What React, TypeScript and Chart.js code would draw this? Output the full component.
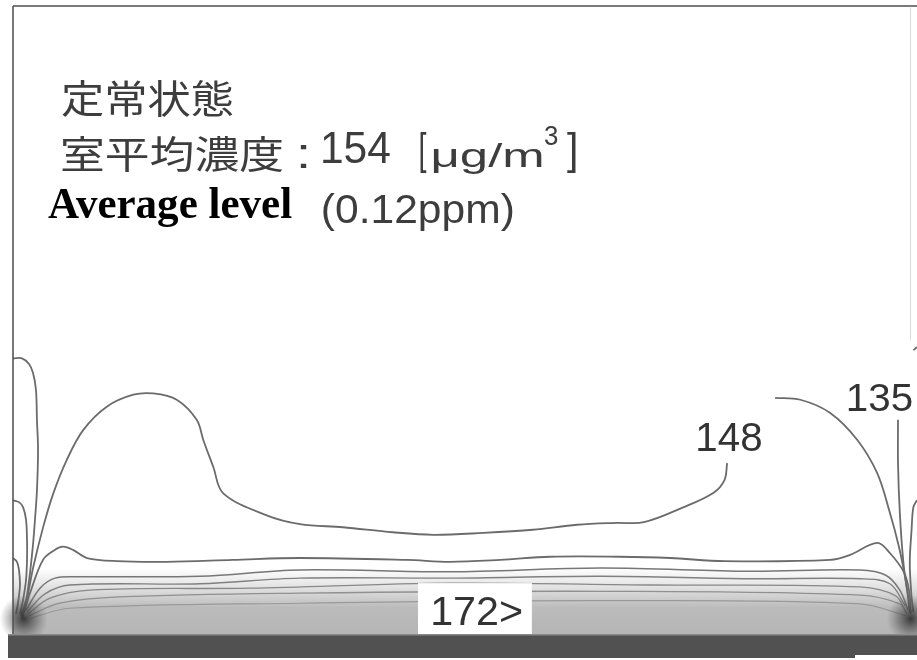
import { useEffect, useRef } from 'react';
import { Chart, registerables } from 'chart.js';

Chart.register(...registerables);

type P = [number, number];

// Room section: x runs 0..100 across the room, y runs 0 (floor) .. 100 (ceiling).
// Iso-concentration lines [μg/m³].
const wallLoopA: P[] = [
  [0, 43.9], [1.0, 43.9], [1.77, 43.0], [2.21, 41.6], [2.54, 38.9], [2.65, 34.1], [2.77, 29.3],
  [2.65, 22.9], [2.43, 18.2], [2.21, 14.2], [1.88, 9.7], [1.55, 6.2], [1.22, 4.3], [0.88, 2.9],
];
const wallLoopB: P[] = [
  [0, 21.3], [0.66, 21.0], [1.11, 20.2], [1.44, 18.2], [1.55, 15.0], [1.55, 11.8], [1.44, 8.6],
  [1.11, 5.4], [0.77, 3.2],
];
const wallLoopC: P[] = [
  [0, 12.1], [0.44, 11.5], [0.66, 10.2], [0.77, 7.8], [0.55, 4.9], [0.33, 3.2],
];
const level148West: P[] = [
  [1.0, 2.5], [1.52, 5.4], [2.25, 10.7], [3.35, 17.1], [4.46, 22.4], [5.94, 27.7], [7.78, 32.5],
  [10.37, 36.2], [13.31, 38.1], [15.52, 38.3], [18.11, 37.3], [20.32, 34.1], [21.05, 30.9],
  [22.16, 26.6], [23.26, 22.4], [28.06, 18.9], [31.75, 17.5], [36.5, 17.0], [42.0, 16.2],
  [46.5, 15.8], [52.0, 16.1], [57.5, 16.6], [62.4, 17.4], [66.8, 17.7], [69.8, 17.8],
  [74.2, 20.2], [77.5, 22.5], [78.7, 24.5], [79.0, 27.2],
];
const level148East: P[] = [
  [84.3, 37.6], [87.1, 37.3], [90.4, 35.2], [93.4, 30.9], [95.6, 25.6], [97.0, 19.3],
  [98.0, 13.9], [98.6, 9.7], [99.1, 5.4], [99.3, 3.2],
];
const level135: P[] = [
  [97.9, 34.1], [97.9, 27.2], [98.1, 19.3], [98.5, 11.3], [99.0, 5.9], [99.2, 3.5],
];
const eastWallLoop: P[] = [
  [100, 21.3], [99.6, 20.2], [99.4, 16.6], [99.2, 11.3], [99.4, 5.9], [99.6, 3.5],
];
const eastWallStub: P[] = [[99.6, 45.2], [100, 45.7]];
const nearFloor1: P[] = [
  [1.22, 3.5], [1.88, 6.5], [3.32, 11.8], [4.65, 13.4], [5.53, 13.9], [6.64, 13.4], [8.19, 12.1],
  [11.5, 11.6], [17.0, 11.5], [24.3, 11.8], [31.7, 12.1], [43.6, 11.8], [48.3, 11.5], [53.9, 11.8],
  [59.4, 12.3], [67.1, 12.3], [72.7, 12.1], [78.7, 11.6], [90.4, 11.8], [92.6, 12.6], [95.6, 14.5],
  [97.0, 12.9], [98.6, 9.7], [99.2, 6.2], [99.3, 3.5],
];
const nearFloor2: P[] = [
  [1.44, 3.8], [2.99, 7.3], [4.65, 8.9], [7.41, 9.1], [20.7, 9.2], [31.7, 10.2], [48.3, 9.9],
  [65.0, 10.5], [81.5, 10.0], [93.7, 10.2], [96.5, 9.4], [98.1, 7.0], [99.0, 3.8],
];
const nearFloor3: P[] = [
  [1.55, 3.5], [3.54, 6.4], [6.3, 7.8], [20.7, 8.0], [31.7, 8.9], [48.3, 8.9], [65.0, 9.2],
  [81.5, 8.8], [93.7, 8.8], [97.0, 8.0], [98.7, 4.5],
];
const nearFloor4: P[] = [
  [1.66, 3.2], [4.09, 5.7], [8.5, 7.0], [26.2, 7.3], [48.3, 8.1], [70.5, 7.8], [93.7, 7.5],
  [97.6, 6.1], [98.8, 3.5],
];
const nearFloor5: P[] = [
  [1.77, 2.9], [5.2, 4.9], [11.8, 5.9], [31.7, 6.5], [64.9, 6.8], [93.7, 6.2], [98.1, 4.8], [98.9, 3.2],
];
const nearFloor6: P[] = [
  [1.88, 2.5], [6.3, 4.1], [31.7, 4.9], [64.9, 5.3], [93.7, 4.8], [98.8, 2.9],
];
const shadedTop: P[] = [[0, 10.5], [100, 10.5]];

const contourLevels = ['148', '135'];
const floorLevel = '172>';
const heading = '定常状態';
const meanCaption = '室平均濃度';
const meanValue = '154';
const meanUnit = 'μg/m';
const englishCaption = 'Average level';
const ppmValue = '(0.12ppm)';

const CJK = '"Noto Sans CJK JP", "Noto Sans CJK SC", sans-serif';
const SANS = '"Liberation Sans", Arial, sans-serif';
const SERIF = '"Liberation Serif", "Times New Roman", serif';

// Draw text so its ink box fills the given rectangle.
function inkText(
  ctx: CanvasRenderingContext2D, text: string, font: string, color: string,
  left: number, right: number, top: number, bottom: number,
) {
  ctx.save();
  ctx.font = font;
  ctx.fillStyle = color;
  ctx.textAlign = 'left';
  ctx.textBaseline = 'alphabetic';
  const m = ctx.measureText(text);
  const inkW = m.actualBoundingBoxLeft + m.actualBoundingBoxRight;
  const inkH = m.actualBoundingBoxAscent + m.actualBoundingBoxDescent;
  const sx = (right - left) / inkW;
  const sy = (bottom - top) / inkH;
  ctx.translate(left, top);
  ctx.scale(sx, sy);
  ctx.fillText(text, m.actualBoundingBoxLeft, m.actualBoundingBoxAscent);
  ctx.restore();
}

const pts = (p: P[]) => p.map(([x, y]) => ({ x, y }));

const contour = (p: P[], label: string, color = '#6b6b6b', width = 1.8) => ({
  label,
  data: pts(p),
  showLine: true,
  borderColor: color,
  borderWidth: width,
  pointRadius: 0,
  tension: 0.35,
  fill: false,
  order: 0,
});

const decorations = {
  id: 'roomDecor',
  afterDatasetsDraw(chart: any) {
    const { ctx, scales } = chart;
    const xs = scales.x;
    const ys = scales.y;
    // dense source zones in the two lower corners
    const blobs: P[] = [[1.2, 2.4], [99.3, 2.4]];
    for (const [bx, by] of blobs) {
      const cx = xs.getPixelForValue(bx);
      const cy = ys.getPixelForValue(by);
      const g = ctx.createRadialGradient(cx, cy, 0, cx, cy, 24);
      g.addColorStop(0, 'rgba(35,35,35,0.85)');
      g.addColorStop(0.5, 'rgba(60,60,60,0.45)');
      g.addColorStop(1, 'rgba(90,90,90,0)');
      ctx.save();
      ctx.fillStyle = g;
      ctx.fillRect(cx - 26, cy - 26, 52, 52);
      ctx.restore();
    }
    // floor value label in its white box
    const bl = xs.getPixelForValue(44.8);
    const br = xs.getPixelForValue(57.4);
    const bt = ys.getPixelForValue(8.1);
    const bb = ys.getPixelForValue(0);
    ctx.save();
    ctx.fillStyle = '#ffffff';
    ctx.fillRect(bl, bt, br - bl, bb - bt);
    ctx.restore();
    const fx = xs.getPixelForValue(51.3);
    const fy = ys.getPixelForValue(3.7);
    inkText(ctx, floorLevel, `39px ${SANS}`, '#333333', fx - 44.5, fx + 44.5, fy - 14, fy + 14);
    // contour level labels
    const a148x = xs.getPixelForValue(79.3);
    const a148y = ys.getPixelForValue(31.4);
    inkText(ctx, contourLevels[0], `40px ${SANS}`, '#333333', a148x - 31.5, a148x + 31.5, a148y - 14.5, a148y + 14.5);
    const a135x = xs.getPixelForValue(95.9);
    const a135y = ys.getPixelForValue(37.7);
    inkText(ctx, contourLevels[1], `38px ${SANS}`, '#333333', a135x - 32, a135x + 32, a135y - 13.5, a135y + 13.5);
  },
  afterDraw(chart: any) {
    const { ctx, chartArea } = chart;
    const { left, top, right, bottom } = chartArea;
    ctx.save();
    // floor slab
    ctx.fillStyle = '#515151';
    ctx.fillRect(8, bottom, right - 8, 24);
    ctx.fillStyle = '#8a8a8a';
    ctx.fillRect(8, bottom, right - 8, 1.5);
    ctx.fillStyle = '#ffffff';
    ctx.fillRect(855, bottom + 21, right - 855, 6);
    // walls and ceiling
    ctx.strokeStyle = '#7a7a7a';
    ctx.lineWidth = 2;
    ctx.beginPath();
    ctx.moveTo(left, top);
    ctx.lineTo(right, top);
    ctx.stroke();
    ctx.strokeStyle = '#555555';
    ctx.lineWidth = 1.6;
    ctx.beginPath();
    ctx.moveTo(left, top);
    ctx.lineTo(left, bottom);
    ctx.stroke();
    ctx.strokeStyle = 'rgba(180,180,180,0.5)';
    ctx.lineWidth = 1;
    ctx.beginPath();
    ctx.moveTo(910.5, top);
    ctx.lineTo(910.5, 340);
    ctx.stroke();
    ctx.restore();

    // captions
    const grey = '#3d3d3d';
    inkText(ctx, heading, `44px ${CJK}`, grey, 62, 233, 80, 117);
    inkText(ctx, meanCaption, `44px ${CJK}`, grey, 62, 283, 135, 172);
    inkText(ctx, ':', `40px ${SANS}`, grey, 300, 307, 145, 168);
    inkText(ctx, meanValue, `41px ${SANS}`, grey, 323, 390, 133, 163);
    inkText(ctx, '[', `41px ${SANS}`, grey, 420, 427, 132, 173);
    inkText(ctx, meanUnit, `41px ${SANS}`, grey, 433, 542, 143, 174);
    inkText(ctx, '3', `24px ${SANS}`, grey, 544, 558, 125, 145);
    inkText(ctx, ']', `41px ${SANS}`, grey, 567, 576, 132, 173);
    inkText(ctx, englishCaption, `bold 40px ${SERIF}`, '#000000', 48, 292, 188, 228);
    inkText(ctx, ppmValue, `38px ${SANS}`, grey, 323, 513, 193, 232);
  },
};

export default function App() {
  const ref = useRef<HTMLCanvasElement | null>(null);

  useEffect(() => {
    const canvas = ref.current;
    if (!canvas) return;
    const chart = new Chart(canvas, {
      type: 'scatter',
      data: {
        datasets: [
          contour(wallLoopA, '135'),
          contour(wallLoopB, 'wall B'),
          contour(wallLoopC, 'wall C'),
          contour(level148West, '148'),
          contour(level148East, '148'),
          contour(level135, '135'),
          contour(eastWallLoop, 'east wall'),
          contour(eastWallStub, 'east wall upper'),
          contour(nearFloor1, 'floor 1', '#6b6b6b', 1.8),
          contour(nearFloor2, 'floor 2', '#777777', 1.5),
          contour(nearFloor3, 'floor 3', '#808080', 1.4),
          contour(nearFloor4, 'floor 4', '#888888', 1.3),
          contour(nearFloor5, 'floor 5', '#909090', 1.3),
          contour(nearFloor6, 'floor 6', '#999999', 1.2),
          {
            label: '172',
            data: pts(shadedTop),
            showLine: true,
            borderColor: 'rgba(0,0,0,0)',
            borderWidth: 0,
            pointRadius: 0,
            fill: 'start',
            order: 1,
            backgroundColor: (c: any) => {
              const { chart: ch } = c;
              const area = ch.chartArea;
              if (!area) return 'rgba(0,0,0,0)';
              const y0 = ch.scales.y.getPixelForValue(10.5);
              const y1 = ch.scales.y.getPixelForValue(0);
              const g = ch.ctx.createLinearGradient(0, y0, 0, y1);
              g.addColorStop(0, 'rgba(120,120,120,0)');
              g.addColorStop(0.3, 'rgba(120,120,120,0.22)');
              g.addColorStop(0.6, 'rgba(120,120,120,0.5)');
              g.addColorStop(1, 'rgba(120,120,120,0.55)');
              return g;
            },
          } as any,
        ],
      },
      options: {
        animation: false,
        responsive: false,
        devicePixelRatio: 1,
        layout: { padding: { left: 13, top: 6, right: 0, bottom: 26 } },
        scales: {
          x: { type: 'linear', min: 0, max: 100, display: false },
          y: { type: 'linear', min: 0, max: 100, display: false },
        },
        plugins: {
          legend: { display: false },
          tooltip: { enabled: false },
        },
        events: [],
      },
      plugins: [decorations],
    } as any);
    return () => chart.destroy();
  }, []);

  return (
    <div style={{ position: 'fixed', left: 0, top: 0, width: 917, height: 660, background: '#ffffff' }}>
      <canvas ref={ref} width={917} height={660} style={{ display: 'block', width: 917, height: 660 }} />
    </div>
  );
}
